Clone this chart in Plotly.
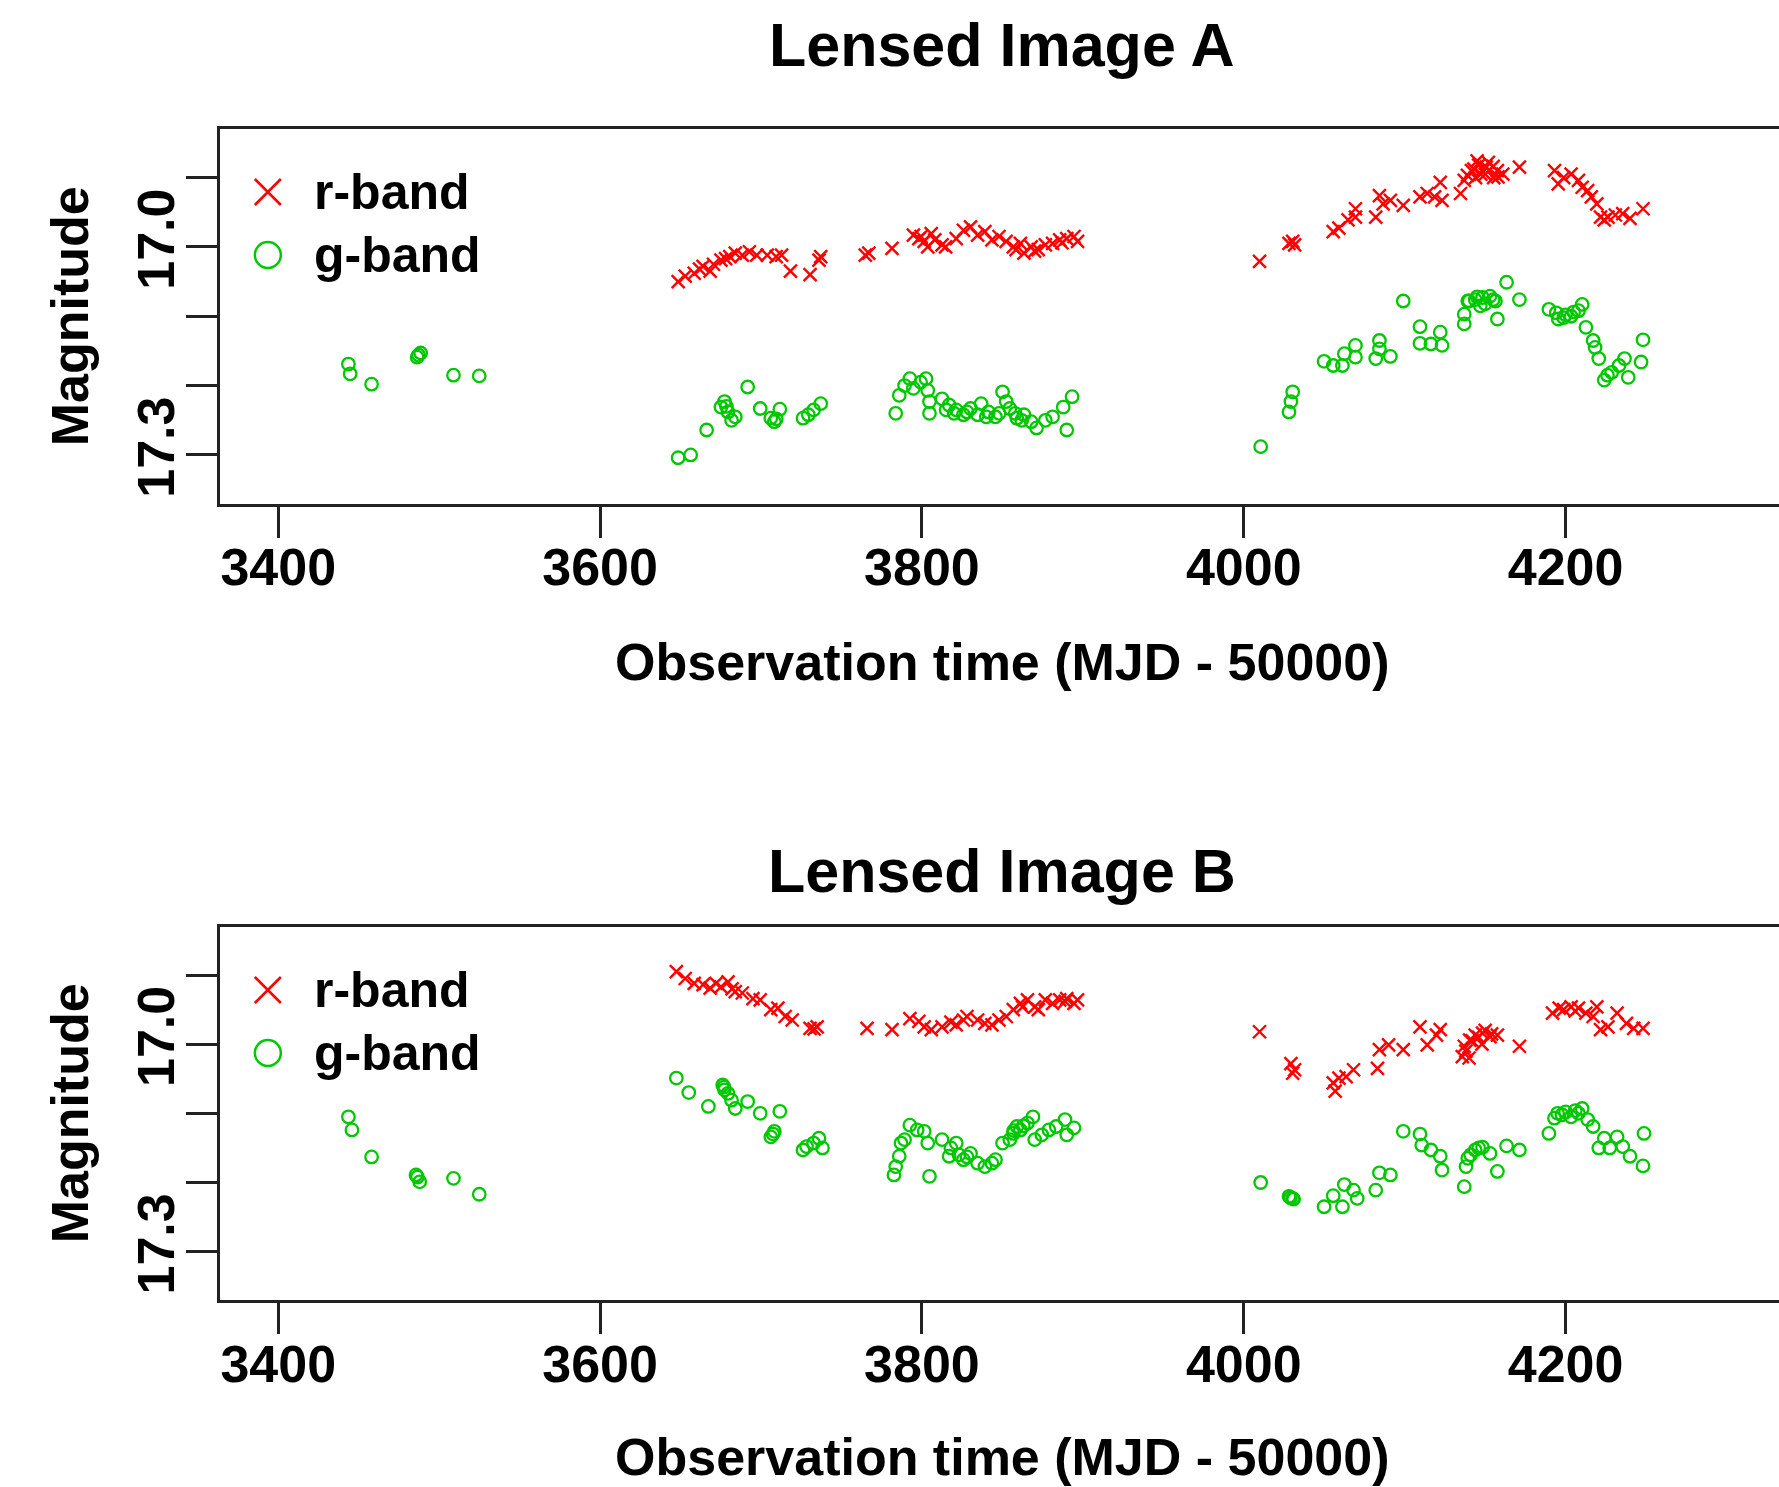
import plotly.graph_objects as go

# ---------------- data (observation time MJD-50000, magnitude) ----------------
A_R = [
    (3648.5, 17.050), (3652.9, 17.042), (3658.5, 17.038), (3661.8, 17.032),
    (3664.0, 17.028), (3668.4, 17.035), (3675.1, 17.019), (3680.6, 17.014), (3684.0, 17.009),
    (3688.4, 17.012), (3692.8, 17.007), (3697.3, 17.012), (3703.9, 17.012), (3709.4, 17.014),
    (3712.8, 17.012), (3718.3, 17.035), (3730.5, 17.040), (3736.0, 17.019), (3737.1, 17.014),
    (3764.8, 17.012), (3767.0, 17.009), (3781.4, 17.002), (3794.7, 16.983), (3798.1, 16.988),
    (3801.4, 16.992), (3803.6, 17.000), (3805.8, 16.981), (3812.5, 16.997), (3814.7, 17.000),
    (3821.3, 16.988), (3825.8, 16.976), (3830.2, 16.971), (3834.6, 16.983), (3839.1, 16.978),
    (3843.5, 16.990), (3847.9, 16.985), (3852.3, 16.992), (3856.8, 17.000), (3861.2, 16.995),
    (3863.4, 17.009), (3867.9, 17.000), (3872.3, 17.004), (3876.7, 16.997), (3881.2, 16.995),
    (3885.6, 16.990), (3890.0, 16.988), (3894.5, 16.985), (3896.7, 16.992),
    (3670.5, 17.025), (3678.0, 17.017), (3799.5, 16.985), (3808.0, 16.990), (3858.5, 17.004),
    (3870.0, 17.006), (3887.0, 16.994),
    (4009.8, 17.021), (4028.1, 16.995), (4031.6, 16.997), (4030.4, 16.992), (4055.6, 16.978),
    (4059.1, 16.973), (4064.8, 16.961), (4069.4, 16.945), (4069.4, 16.957), (4082.0, 16.957),
    (4084.3, 16.926), (4086.6, 16.938), (4091.1, 16.933), (4099.1, 16.940), (4109.5, 16.928),
    (4114.0, 16.923), (4118.6, 16.928), (4122.1, 16.907), (4123.2, 16.933), (4134.7, 16.923),
    (4137.0, 16.904), (4141.5, 16.890), (4145.0, 16.876), (4147.3, 16.895), (4150.7, 16.885),
    (4155.3, 16.900), (4157.6, 16.890), (4161.0, 16.895), (4171.3, 16.885), (4193.1, 16.890),
    (4195.4, 16.909), (4198.8, 16.900), (4203.4, 16.895), (4208.0, 16.904), (4210.3, 16.914),
    (4213.7, 16.919), (4216.0, 16.928), (4219.4, 16.938), (4221.7, 16.957), (4226.3, 16.957),
    (4230.9, 16.954), (4235.5, 16.952), (4240.0, 16.959), (4248.1, 16.945), (4224.0, 16.961),
    (4143.0, 16.888), (4146.0, 16.882), (4150.0, 16.895), (4152.0, 16.878), (4155.0, 16.884),
    (4158.0, 16.899), (4144.0, 16.900), (4139.0, 16.897),
]
A_G = [
    (3443.6, 17.169), (3444.7, 17.183), (3458.0, 17.198), (3486.3, 17.159), (3487.2, 17.156),
    (3488.5, 17.153), (3508.9, 17.185), (3524.9, 17.186),
    (3648.5, 17.304), (3656.3, 17.300),
    (3666.2, 17.264), (3675.1, 17.231), (3677.3, 17.223), (3679.5, 17.238), (3681.7, 17.250),
    (3684.0, 17.245), (3691.7, 17.202), (3699.5, 17.233), (3706.1, 17.247), (3708.3, 17.252),
    (3711.7, 17.234), (3726.1, 17.247), (3729.4, 17.242), (3732.7, 17.235), (3737.1, 17.226),
    (3783.7, 17.240), (3785.9, 17.214), (3789.2, 17.200), (3792.5, 17.190), (3794.7, 17.204),
    (3799.2, 17.195), (3802.5, 17.190), (3803.6, 17.207), (3804.7, 17.223), (3804.7, 17.240),
    (3812.5, 17.219), (3816.9, 17.228), (3821.3, 17.235), (3825.8, 17.242), (3830.2, 17.233),
    (3834.6, 17.242), (3836.8, 17.226), (3841.3, 17.238), (3845.7, 17.245), (3850.1, 17.209),
    (3852.4, 17.223), (3854.6, 17.233), (3859.0, 17.247), (3863.4, 17.242), (3867.9, 17.252),
    (3871.2, 17.261), (3876.7, 17.250), (3881.2, 17.245), (3887.8, 17.231), (3893.3, 17.216),
    (3890.0, 17.264),
    (3815.0, 17.235), (3820.0, 17.240), (3828.0, 17.238), (3840.0, 17.245), (3848.0, 17.240),
    (3858.0, 17.240), (3862.0, 17.250), (3678.5, 17.230), (3709.5, 17.248),
    (4010.5, 17.288), (4028.1, 17.238), (4029.3, 17.223), (4030.4, 17.209), (4049.9, 17.165),
    (4055.6, 17.171), (4061.3, 17.171), (4062.5, 17.154), (4069.4, 17.142), (4069.4, 17.159),
    (4082.0, 17.161), (4084.3, 17.135), (4084.3, 17.147), (4091.1, 17.158), (4099.1, 17.078),
    (4109.5, 17.115), (4109.5, 17.139), (4116.3, 17.140), (4122.1, 17.123), (4123.2, 17.142),
    (4137.0, 17.111), (4137.0, 17.097), (4139.2, 17.078), (4143.8, 17.076), (4148.4, 17.073),
    (4153.0, 17.071), (4156.4, 17.078), (4157.6, 17.104), (4163.3, 17.051), (4171.3, 17.076),
    (4189.6, 17.090), (4194.2, 17.095), (4195.4, 17.104), (4198.8, 17.102), (4203.4, 17.100),
    (4208.0, 17.092), (4210.3, 17.083), (4212.6, 17.116), (4217.1, 17.135), (4218.3, 17.145),
    (4220.6, 17.161), (4224.0, 17.192), (4228.6, 17.181), (4233.2, 17.171), (4236.6, 17.161),
    (4238.9, 17.188), (4246.9, 17.166), (4248.1, 17.134),
    (4140.0, 17.078), (4145.0, 17.072), (4150.0, 17.082), (4155.0, 17.076), (4147.0, 17.085),
    (4200.0, 17.098), (4205.0, 17.094), (4226.0, 17.185),
]
B_R = [
    (3647.4, 16.895), (3652.9, 16.905), (3658.5, 16.912),
    (3664.0, 16.914), (3668.4, 16.919), (3675.1, 16.917), (3679.5, 16.910), (3684.0, 16.924),
    (3688.4, 16.926), (3695.0, 16.934), (3699.5, 16.936), (3706.1, 16.950), (3710.5, 16.948),
    (3715.0, 16.960), (3719.4, 16.965), (3730.5, 16.977), (3734.9, 16.975), (3765.9, 16.977),
    (3781.4, 16.979), (3792.5, 16.963), (3798.1, 16.967), (3801.4, 16.975), (3805.8, 16.979),
    (3812.5, 16.975), (3821.3, 16.972), (3825.8, 16.965), (3828.0, 16.960), (3834.6, 16.965),
    (3839.1, 16.970), (3843.5, 16.972), (3847.9, 16.965), (3852.4, 16.960), (3856.8, 16.950),
    (3861.2, 16.941), (3865.6, 16.936), (3870.1, 16.946), (3872.3, 16.950), (3876.7, 16.936),
    (3881.2, 16.941), (3885.6, 16.936), (3890.0, 16.934), (3894.5, 16.941), (3896.7, 16.936),
    (3672.0, 16.912), (3682.0, 16.920), (3733.0, 16.978), (3818.0, 16.968), (3862.5, 16.946),
    (3889.0, 16.938),
    (4009.8, 16.982), (4029.3, 17.028), (4030.4, 17.042), (4031.6, 17.037), (4055.6, 17.056),
    (4056.8, 17.068), (4059.1, 17.049), (4063.6, 17.047), (4068.2, 17.037), (4083.1, 17.035),
    (4084.3, 17.008), (4090.0, 17.001), (4099.1, 17.008), (4109.5, 16.975), (4114.0, 17.001),
    (4119.8, 16.987), (4122.1, 16.979), (4135.8, 17.018), (4137.0, 17.003), (4140.4, 16.994),
    (4143.8, 16.987), (4148.4, 16.984), (4153.0, 16.989), (4157.6, 16.987), (4171.3, 17.003),
    (4191.9, 16.955), (4198.8, 16.950), (4203.4, 16.946), (4208.0, 16.948), (4212.6, 16.955),
    (4217.1, 16.960), (4219.4, 16.946), (4221.7, 16.979), (4226.3, 16.975), (4232.0, 16.955),
    (4237.8, 16.970), (4242.3, 16.977), (4248.1, 16.977),
    (4138.0, 17.010), (4142.0, 16.995), (4146.0, 16.990), (4150.0, 16.980), (4154.0, 16.985),
    (4140.0, 17.020), (4148.0, 17.000), (4196.0, 16.948), (4206.0, 16.952),
]
B_G = [
    (3443.6, 17.105), (3445.8, 17.124), (3458.0, 17.163), (3485.6, 17.189), (3486.5, 17.192),
    (3487.9, 17.199), (3508.9, 17.194), (3524.9, 17.217),
    (3647.4, 17.049), (3655.1, 17.070),
    (3667.3, 17.090), (3676.2, 17.059), (3677.3, 17.066), (3679.5, 17.071), (3681.7, 17.081),
    (3684.0, 17.093), (3691.7, 17.083), (3699.5, 17.100), (3706.1, 17.134), (3708.3, 17.126),
    (3711.7, 17.097), (3726.1, 17.153), (3728.3, 17.148), (3732.7, 17.143), (3736.0, 17.136),
    (3738.2, 17.150), (3782.6, 17.189), (3783.7, 17.177), (3785.9, 17.162), (3787.0, 17.143),
    (3789.2, 17.138), (3792.5, 17.117), (3797.0, 17.124), (3801.4, 17.126), (3803.6, 17.143),
    (3804.7, 17.191), (3812.5, 17.138), (3816.9, 17.162), (3821.3, 17.143), (3825.8, 17.167),
    (3830.2, 17.158), (3834.6, 17.172), (3839.1, 17.177), (3843.5, 17.172), (3845.7, 17.167),
    (3850.1, 17.143), (3854.6, 17.138), (3856.8, 17.129), (3859.0, 17.119), (3861.2, 17.124),
    (3865.6, 17.114), (3869.0, 17.105), (3870.1, 17.138), (3874.5, 17.131), (3878.9, 17.124),
    (3883.4, 17.119), (3888.9, 17.109), (3890.0, 17.131), (3894.5, 17.121),
    (3677.0, 17.062), (3707.5, 17.130), (3818.0, 17.150), (3823.0, 17.160), (3828.0, 17.163),
    (3857.0, 17.125), (3863.0, 17.118),
    (4010.5, 17.200), (4028.1, 17.220), (4030.4, 17.223), (4049.9, 17.235), (4055.6, 17.219),
    (4061.3, 17.235), (4062.5, 17.203), (4068.2, 17.211), (4070.5, 17.223), (4082.0, 17.211),
    (4084.3, 17.186), (4091.1, 17.189), (4099.1, 17.126), (4109.5, 17.130), (4110.6, 17.146),
    (4116.3, 17.153), (4122.1, 17.162), (4123.2, 17.182), (4137.0, 17.206), (4138.1, 17.177),
    (4139.2, 17.165), (4143.8, 17.153), (4148.4, 17.149), (4153.0, 17.158), (4157.6, 17.184),
    (4163.3, 17.147), (4171.3, 17.153), (4189.6, 17.129), (4193.1, 17.107), (4197.7, 17.102),
    (4203.4, 17.105), (4210.3, 17.093), (4213.7, 17.109), (4217.1, 17.119), (4220.6, 17.150),
    (4224.0, 17.136), (4227.4, 17.150), (4232.0, 17.134), (4235.5, 17.148), (4240.0, 17.162),
    (4248.1, 17.176), (4248.7, 17.129),
    (4029.0, 17.222), (4031.0, 17.224), (4195.0, 17.100), (4200.0, 17.098), (4206.0, 17.096),
    (4208.0, 17.100), (4141.0, 17.160), (4146.0, 17.150),
]

X_TICKS = [3400, 3600, 3800, 4000, 4200]
Y_TICKS = [16.9, 17.0, 17.1, 17.2, 17.3]
Y_TICK_TEXT = ["", "17.0", "", "", "17.3"]
TITLES = ["Lensed Image A", "Lensed Image B"]
X_LABEL = "Observation time (MJD - 50000)"
Y_LABEL = "Magnitude"
LEGEND_NAMES = ["r-band", "g-band"]

# ---------------- style ----------------
W, H = 1779, 1487
FONT = "Liberation Sans, Arial, Helvetica, sans-serif"
RED = "#FF0000"
GREEN = "#00C800"
AX = "#222222"
X_RANGE = [3363.5, 4332.6]
Y_RANGE = [17.37, 16.83]
X_DOM = [219.5 / W, 1.0]
PANELS = [  # top, bottom pixel edges of each plotting box
    (129.0, 503.5),
    (926.6, 1300.1),
]
TITLE_Y = [45, 871]
XLAB_Y = [662, 1457]
LEG_SYM_X = 0.031
LEG_TEXT_X = 312
LEG_Y = [(192, 255), (990, 1053)]

fig = go.Figure()

def unzip(pairs):
    return [p[0] for p in pairs], [p[1] for p in pairs]

series = [(A_R, A_G), (B_R, B_G)]
annotations = []
for i, (red_pairs, green_pairs) in enumerate(series):
    xa = "x" if i == 0 else "x2"
    ya = "y" if i == 0 else "y2"
    rx, ry = unzip(red_pairs)
    gx, gy = unzip(green_pairs)
    fig.add_trace(go.Scatter(
        x=rx, y=ry, mode="markers", xaxis=xa, yaxis=ya, showlegend=False,
        marker=dict(symbol="x-thin-open", size=13, color=RED, line=dict(width=2.4, color=RED)),
    ))
    fig.add_trace(go.Scatter(
        x=gx, y=gy, mode="markers", xaxis=xa, yaxis=ya, showlegend=False,
        marker=dict(symbol="circle-open", size=12.5, color=GREEN, line=dict(width=2.3, color=GREEN)),
    ))
    top, bot = PANELS[i]
    # legend keys on an overlay axis
    lxa = "x3" if i == 0 else "x4"
    lya = "y3" if i == 0 else "y4"
    ly_r = (bot - LEG_Y[i][0]) / (bot - top)
    ly_g = (bot - LEG_Y[i][1]) / (bot - top)
    fig.add_trace(go.Scatter(
        x=[LEG_SYM_X], y=[ly_r], mode="markers", xaxis=lxa, yaxis=lya, showlegend=False,
        marker=dict(symbol="x-thin-open", size=26, color=RED, line=dict(width=2.5, color=RED)),
    ))
    fig.add_trace(go.Scatter(
        x=[LEG_SYM_X], y=[ly_g], mode="markers", xaxis=lxa, yaxis=lya, showlegend=False,
        marker=dict(symbol="circle-open", size=26, color=GREEN, line=dict(width=2.5, color=GREEN)),
    ))
    for name, ypx in zip(LEGEND_NAMES, LEG_Y[i]):
        annotations.append(dict(
            text=name, xref="paper", yref="paper", x=LEG_TEXT_X / W, y=1 - ypx / H,
            xanchor="left", yanchor="middle", showarrow=False,
            font=dict(family=FONT, size=50, color="black", weight="bold"),
        ))
    annotations.append(dict(
        text=TITLES[i], xref="paper", yref="paper", x=1002 / W, y=1 - TITLE_Y[i] / H,
        xanchor="center", yanchor="middle", showarrow=False,
        font=dict(family=FONT, size=61, color="black", weight="bold"),
    ))
    annotations.append(dict(
        text=X_LABEL, xref="paper", yref="paper", x=1002 / W, y=1 - XLAB_Y[i] / H,
        xanchor="center", yanchor="middle", showarrow=False,
        font=dict(family=FONT, size=52, color="black", weight="bold"),
    ))
    annotations.append(dict(
        text=Y_LABEL, xref="paper", yref="paper", x=70 / W, y=1 - (top + bot) / 2 / H,
        xanchor="center", yanchor="middle", showarrow=False, textangle=-90,
        font=dict(family=FONT, size=52, color="black", weight="bold"),
    ))

tickfont = dict(family=FONT, size=52, color="black", weight="bold")
common_x = dict(
    range=X_RANGE, domain=X_DOM, tickmode="array", tickvals=X_TICKS,
    ticks="outside", ticklen=31, tickwidth=2.5, tickcolor=AX,
    showline=True, linecolor=AX, linewidth=3, mirror=True,
    showgrid=False, zeroline=False, tickfont=tickfont, ticklabelstandoff=-15,
)
common_y = dict(
    range=Y_RANGE, tickmode="array", tickvals=Y_TICKS, ticktext=Y_TICK_TEXT,
    ticks="outside", ticklen=31, tickwidth=2.5, tickcolor=AX,
    showline=True, linecolor=AX, linewidth=3, mirror=False,
    showgrid=False, zeroline=False, tickfont=tickfont, tickangle=-90, ticklabelstandoff=-9,
)
doms = [[1 - b / H, 1 - t / H] for t, b in PANELS]
hidden = dict(visible=False, range=[0, 1], showgrid=False, zeroline=False, fixedrange=True)

fig.update_layout(
    width=W, height=H, autosize=False,
    margin=dict(l=0, r=0, t=0, b=0),
    paper_bgcolor="white", plot_bgcolor="white",
    showlegend=False,
    xaxis=dict(common_x, anchor="y"),
    yaxis=dict(common_y, domain=doms[0], anchor="x"),
    xaxis2=dict(common_x, anchor="y2"),
    yaxis2=dict(common_y, domain=doms[1], anchor="x2"),
    xaxis3=dict(hidden, overlaying="x", anchor="y3"),
    yaxis3=dict(hidden, overlaying="y", anchor="x3"),
    xaxis4=dict(hidden, overlaying="x2", anchor="y4"),
    yaxis4=dict(hidden, overlaying="y2", anchor="x4"),
    annotations=annotations,
)

fig.write_html("out.html")
